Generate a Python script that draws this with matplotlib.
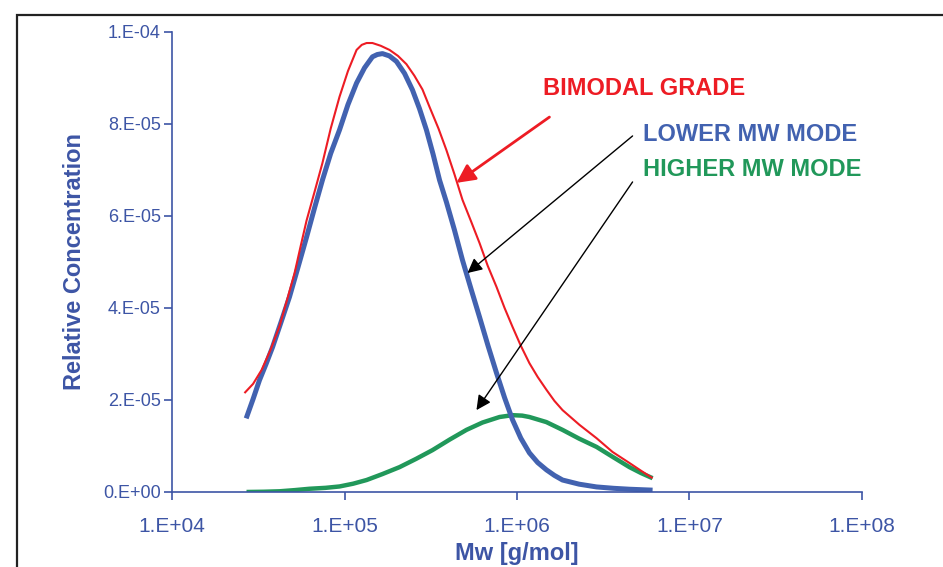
import numpy as np
import matplotlib.pyplot as plt
from matplotlib.patches import Rectangle

plt.rcParams['font.family'] = ['Liberation Sans', 'DejaVu Sans']

# log10(Mw) and relative concentration for each curve
blue_logm = [4.430, 4.470, 4.507, 4.545, 4.583, 4.630, 4.681, 4.730, 4.780, 4.826,
             4.872, 4.920, 4.971, 5.020, 5.070, 5.116, 5.162, 5.190, 5.220, 5.260,
             5.301, 5.348, 5.394, 5.435, 5.475, 5.513, 5.551, 5.591, 5.637, 5.684,
             5.733, 5.783, 5.832, 5.881, 5.928, 5.974, 6.022, 6.072, 6.120, 6.171,
             6.217, 6.264, 6.360, 6.461, 6.560, 6.652, 6.786]
blue_conc = [1.60e-5, 2.02e-5, 2.43e-5, 2.78e-5, 3.15e-5, 3.67e-5, 4.24e-5, 4.88e-5, 5.54e-5, 6.17e-5,
             6.78e-5, 7.36e-5, 7.87e-5, 8.42e-5, 8.89e-5, 9.22e-5, 9.46e-5, 9.51e-5, 9.53e-5, 9.48e-5,
             9.36e-5, 9.10e-5, 8.74e-5, 8.33e-5, 7.87e-5, 7.35e-5, 6.78e-5, 6.30e-5, 5.70e-5, 5.04e-5,
             4.42e-5, 3.80e-5, 3.18e-5, 2.59e-5, 2.05e-5, 1.57e-5, 1.17e-5, 8.5e-6, 6.4e-6, 4.8e-6,
             3.6e-6, 2.6e-6, 1.7e-6, 1.1e-6, 8.0e-7, 6.0e-7, 4.0e-7]

red_logm = [4.420, 4.470, 4.519, 4.570, 4.623, 4.665, 4.710, 4.745, 4.780, 4.826,
            4.872, 4.920, 4.971, 5.020, 5.070, 5.100, 5.128, 5.162, 5.210, 5.261,
            5.310, 5.359, 5.405, 5.452, 5.493, 5.545, 5.591, 5.638, 5.684, 5.734,
            5.783, 5.830, 5.881, 5.928, 5.974, 6.022, 6.072, 6.120, 6.171, 6.217,
            6.264, 6.362, 6.461, 6.554, 6.652, 6.720, 6.786]
red_conc = [2.15e-5, 2.35e-5, 2.65e-5, 3.08e-5, 3.60e-5, 4.15e-5, 4.75e-5, 5.33e-5, 5.90e-5, 6.52e-5,
            7.15e-5, 7.90e-5, 8.59e-5, 9.15e-5, 9.61e-5, 9.72e-5, 9.76e-5, 9.76e-5, 9.70e-5, 9.61e-5,
            9.48e-5, 9.30e-5, 9.05e-5, 8.75e-5, 8.37e-5, 7.90e-5, 7.43e-5, 6.90e-5, 6.35e-5, 5.88e-5,
            5.41e-5, 4.92e-5, 4.46e-5, 4.00e-5, 3.59e-5, 3.18e-5, 2.80e-5, 2.50e-5, 2.22e-5, 1.98e-5,
            1.78e-5, 1.46e-5, 1.17e-5, 8.7e-6, 6.3e-6, 4.6e-6, 3.0e-6]

green_logm = [4.432, 4.530, 4.623, 4.710, 4.797, 4.890, 4.971, 5.050, 5.128, 5.220,
              5.319, 5.415, 5.510, 5.610, 5.707, 5.800, 5.899, 5.974, 6.030, 6.072,
              6.170, 6.264, 6.360, 6.461, 6.556, 6.652, 6.720, 6.786]
green_conc = [0.0, 5.0e-8, 1.5e-7, 4.0e-7, 7.0e-7, 9.0e-7, 1.2e-6, 1.8e-6, 2.6e-6, 3.9e-6,
              5.4e-6, 7.2e-6, 9.1e-6, 1.14e-5, 1.35e-5, 1.51e-5, 1.63e-5, 1.67e-5, 1.66e-5, 1.63e-5,
              1.52e-5, 1.35e-5, 1.16e-5, 9.8e-6, 7.6e-6, 5.4e-6, 4.1e-6, 3.0e-6]

xticks = [1e4, 1e5, 1e6, 1e7, 1e8]
xtick_labels = ['1.E+04', '1.E+05', '1.E+06', '1.E+07', '1.E+08']
yticks = [0, 2e-5, 4e-5, 6e-5, 8e-5, 1e-4]
ytick_labels = ['0.E+00', '2.E-05', '4.E-05', '6.E-05', '8.E-05', '1.E-04']

RED = '#ED1C24'
BLUE = '#4262B0'
GREEN = '#21985A'
AXIS = '#3D55A5'

fig = plt.figure(figsize=(9.43, 5.67), dpi=100)

# outer frame around the figure
fig.patches.append(Rectangle((17 / 943, -0.1), 1.2, 1.1 - 15 / 567,
                             transform=fig.transFigure, fill=False,
                             edgecolor='#222222', lw=1.6))

ax = fig.add_axes([0.1824, 0.1323, 0.7317, 0.8113])

line_kw = dict(solid_joinstyle='round', solid_capstyle='butt')
ax.plot(10 ** np.array(green_logm), green_conc, color=GREEN, lw=3.2, **line_kw)
ax.plot(10 ** np.array(blue_logm), blue_conc, color=BLUE, lw=3.6, **line_kw)
ax.plot(10 ** np.array(red_logm), red_conc, color=RED, lw=1.5, **line_kw)

ax.set_xscale('log')
ax.set_xlim(1e4, 1e8)
ax.set_ylim(0, 1e-4)
ax.set_xticks(xticks)
ax.set_xticklabels(xtick_labels, fontsize=15, color=AXIS)
ax.set_yticks(yticks)
ax.set_yticklabels(ytick_labels, fontsize=13, color=AXIS)
ax.minorticks_off()
ax.tick_params(axis='x', direction='out', length=6, width=1.2, color=AXIS, pad=12)
ax.tick_params(axis='y', direction='out', length=6, width=1.2, color=AXIS, pad=2)

for side in ['top', 'right']:
    ax.spines[side].set_visible(False)
for side in ['left', 'bottom']:
    ax.spines[side].set_color(AXIS)
    ax.spines[side].set_linewidth(1.2)

ax.set_xlabel('Mw [g/mol]', fontsize=17, fontweight='bold', color=AXIS, labelpad=4)
ax.set_ylabel('Relative Concentration', fontsize=17, fontweight='bold', color=AXIS, labelpad=12)

# labels with arrows pointing at each curve
ax.text(10 ** 6.148, 8.78e-5, 'BIMODAL GRADE', color=RED, fontsize=17, fontweight='bold', va='center')
ax.text(10 ** 6.728, 7.78e-5, 'LOWER MW MODE', color=BLUE, fontsize=17, fontweight='bold', va='center')
ax.text(10 ** 6.728, 7.00e-5, 'HIGHER MW MODE', color=GREEN, fontsize=17, fontweight='bold', va='center')

ax.annotate('', xy=(10 ** 5.649, 6.72e-5), xytext=(10 ** 6.188, 8.15e-5),
            arrowprops=dict(arrowstyle='-|>', color=RED, lw=2, mutation_scale=28,
                            shrinkA=0, shrinkB=0))
ax.annotate('', xy=(10 ** 5.713, 4.76e-5), xytext=(10 ** 6.670, 7.74e-5),
            arrowprops=dict(arrowstyle='-|>', color='black', lw=1, mutation_scale=22,
                            shrinkA=0, shrinkB=0))
ax.annotate('', xy=(10 ** 5.765, 1.78e-5), xytext=(10 ** 6.670, 6.74e-5),
            arrowprops=dict(arrowstyle='-|>', color='black', lw=1, mutation_scale=22,
                            shrinkA=0, shrinkB=0))

plt.savefig('out.png', dpi=100)
